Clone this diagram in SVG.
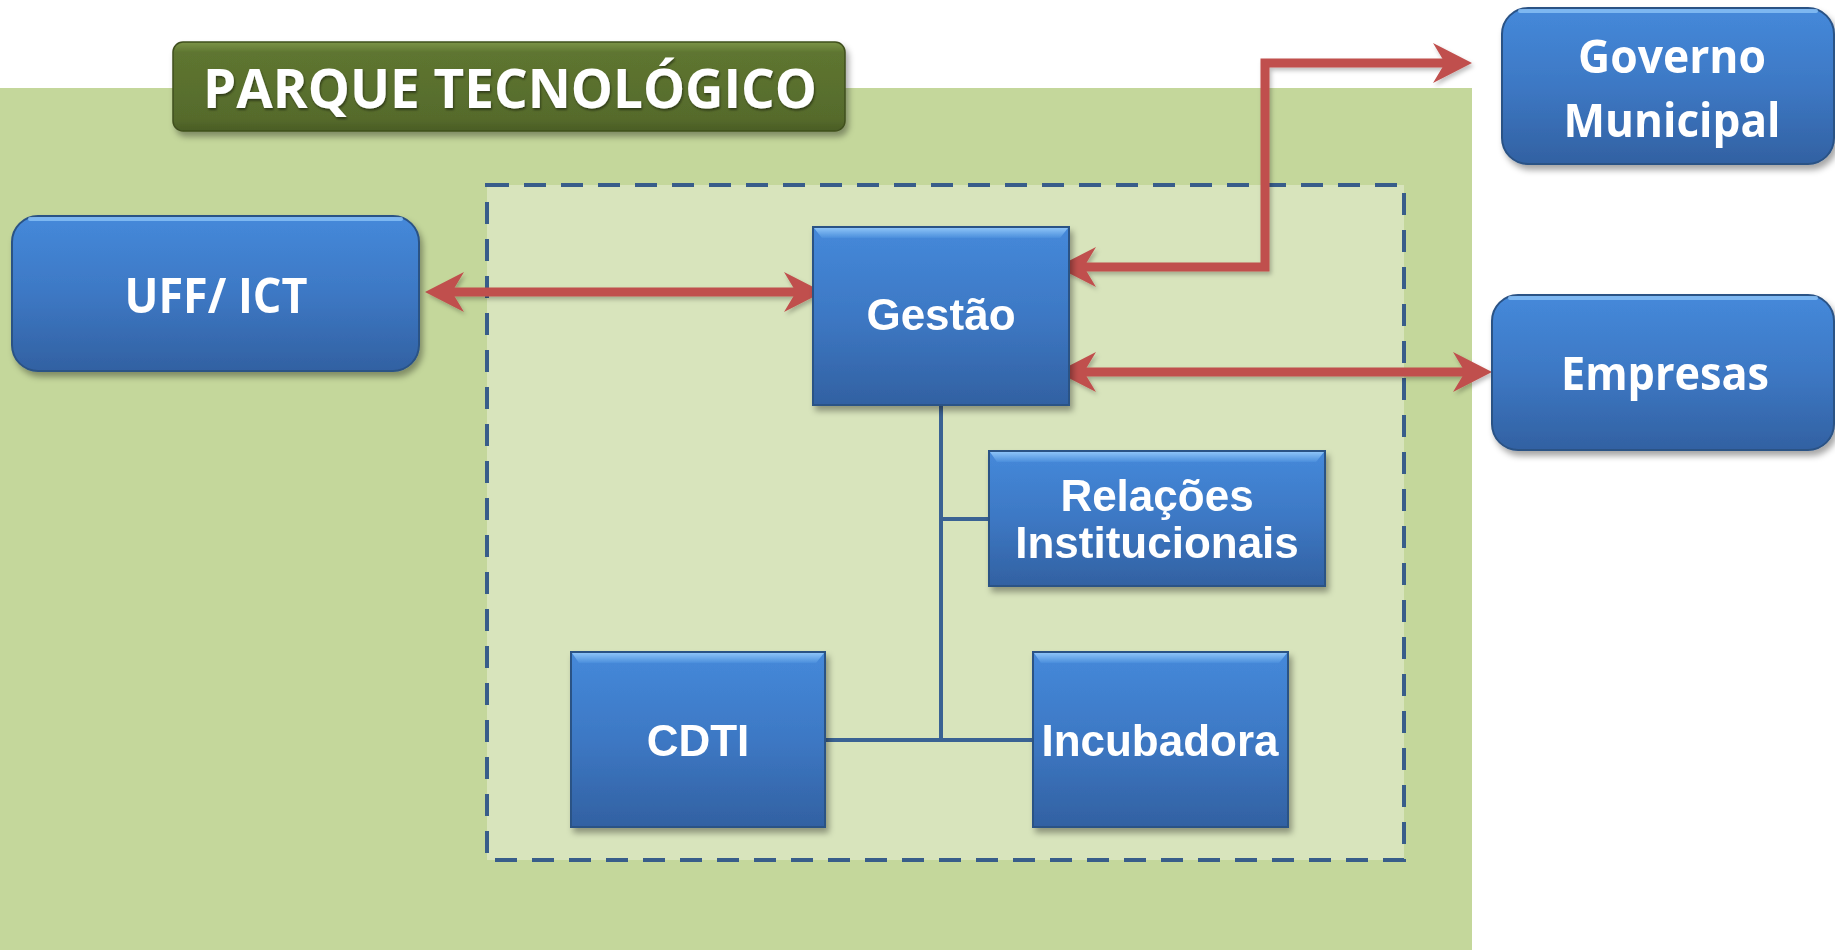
<svg xmlns="http://www.w3.org/2000/svg" width="1835" height="950" viewBox="0 0 1835 950">
<defs>
<linearGradient id="blue" x1="0" y1="0" x2="0" y2="1">
<stop offset="0" stop-color="#4589da"/>
<stop offset="0.5" stop-color="#3d78c4"/>
<stop offset="1" stop-color="#3261a2"/>
</linearGradient>
<linearGradient id="bevel" x1="0" y1="0" x2="0" y2="1">
<stop offset="0" stop-color="#8cc3f7"/>
<stop offset="1" stop-color="#4a8edc"/>
</linearGradient>
<linearGradient id="olive" x1="0" y1="0" x2="0" y2="1">
<stop offset="0" stop-color="#7c9448"/>
<stop offset="0.12" stop-color="#5e7530"/>
<stop offset="0.85" stop-color="#566b2c"/>
<stop offset="1" stop-color="#4a5d25"/>
</linearGradient>
<filter id="sh" x="-10%" y="-10%" width="125%" height="130%">
<feDropShadow dx="3" dy="5" stdDeviation="3" flood-color="#000" flood-opacity="0.35"/>
</filter>
<filter id="ash" x="-5%" y="-10%" width="110%" height="130%">
<feDropShadow dx="2" dy="3" stdDeviation="2" flood-color="#000" flood-opacity="0.25"/>
</filter>
<filter id="tsh" x="-5%" y="-10%" width="110%" height="130%">
<feDropShadow dx="1" dy="2" stdDeviation="1.2" flood-color="#000" flood-opacity="0.45"/>
</filter>
<marker id="ah" markerUnits="userSpaceOnUse" viewBox="-44 -24 48 48" markerWidth="48" markerHeight="48" refX="-25" refY="0" orient="auto-start-reverse">
<path d="M0,0 L-39,-20 L-27,0 L-39,20 Z" fill="#c0504d"/>
</marker>
</defs>
<style>
.box{fill:url(#blue);stroke:#2a5285;stroke-width:2}
.bev{fill:url(#bevel)}
.tw{fill:#fff;font-family:"Liberation Sans",Arial,sans-serif;font-weight:bold;font-size:44px;text-anchor:middle}
.tc{fill:#fff;font-family:"Open Sans","Liberation Sans",sans-serif;font-weight:bold;text-anchor:middle}
.conn{fill:none;stroke:#3a6293;stroke-width:4}
.arr{fill:none;stroke:#c0504d;stroke-width:9;stroke-linejoin:miter}
</style>

<rect id="parque-bg" x="0" y="88" width="1472" height="862" fill="#c4d79b"/>
<rect id="nucleo" x="487" y="185" width="917" height="675" fill="#d8e4bc" stroke="#385d8a" stroke-width="4" stroke-dasharray="22 15"/>

<g id="titulo" filter="url(#sh)">
<rect x="173" y="42" width="672" height="89" rx="10" fill="url(#olive)" stroke="#3f4f1e" stroke-width="1.5"/>
<text class="tc" x="510" y="108" font-size="53" textLength="614" lengthAdjust="spacingAndGlyphs" filter="url(#tsh)">PARQUE TECNOLÓGICO</text>
</g>

<g id="connectors">
<path class="conn" d="M941,405 L941,740 M825,740 L1033,740 M941,519 L989,519"/>
<g filter="url(#ash)">
<path class="arr" d="M450,292 L798,292" marker-start="url(#ah)" marker-end="url(#ah)"/>
<path class="arr" d="M1082,267 L1265,267 L1265,63 L1447,63" marker-start="url(#ah)" marker-end="url(#ah)"/>
<path class="arr" d="M1082,372 L1467,372" marker-start="url(#ah)" marker-end="url(#ah)"/>
</g>
</g>

<g id="uff" filter="url(#sh)">
<rect class="box" x="12" y="216" width="407" height="155" rx="26"/>
<path d="M30,219 L401,219" stroke="#8cc3f7" stroke-width="4" stroke-linecap="round" opacity="0.8"/>
<text class="tc" x="216" y="313" font-size="48" textLength="183" lengthAdjust="spacingAndGlyphs">UFF/ ICT</text>
</g>

<g id="governo" filter="url(#sh)">
<rect class="box" x="1502" y="8" width="332" height="156" rx="26"/>
<path d="M1520,11 L1816,11" stroke="#8cc3f7" stroke-width="4" stroke-linecap="round" opacity="0.8"/>
<text class="tc" x="1672" y="73" font-size="46" textLength="188" lengthAdjust="spacingAndGlyphs">Governo</text>
<text class="tc" x="1672" y="137" font-size="46" textLength="217" lengthAdjust="spacingAndGlyphs">Municipal</text>
</g>

<g id="empresas" filter="url(#sh)">
<rect class="box" x="1492" y="295" width="342" height="155" rx="26"/>
<path d="M1510,298 L1816,298" stroke="#8cc3f7" stroke-width="4" stroke-linecap="round" opacity="0.8"/>
<text class="tc" x="1665" y="390" font-size="46" textLength="208" lengthAdjust="spacingAndGlyphs">Empresas</text>
</g>

<g id="gestao" filter="url(#sh)">
<rect class="box" x="813" y="227" width="256" height="178"/>
<polygon class="bev" points="814,228 1068,228 1060,238 822,238"/>
<text class="tw" x="941" y="330" font-size="42">Gestão</text>
</g>

<g id="relacoes" filter="url(#sh)">
<rect class="box" x="989" y="451" width="336" height="135"/>
<polygon class="bev" points="990,452 1324,452 1316,462 997,462"/>
<text class="tw" x="1157" y="511">Relações</text>
<text class="tw" x="1157" y="558">Institucionais</text>
</g>

<g id="cdti" filter="url(#sh)">
<rect class="box" x="571" y="652" width="254" height="175"/>
<polygon class="bev" points="572,653 824,653 816,663 579,663"/>
<text class="tw" x="698" y="756">CDTI</text>
</g>

<g id="incubadora" filter="url(#sh)">
<rect class="box" x="1033" y="652" width="255" height="175"/>
<polygon class="bev" points="1034,653 1287,653 1279,663 1041,663"/>
<text class="tw" x="1160" y="756">Incubadora</text>
</g>
</svg>
